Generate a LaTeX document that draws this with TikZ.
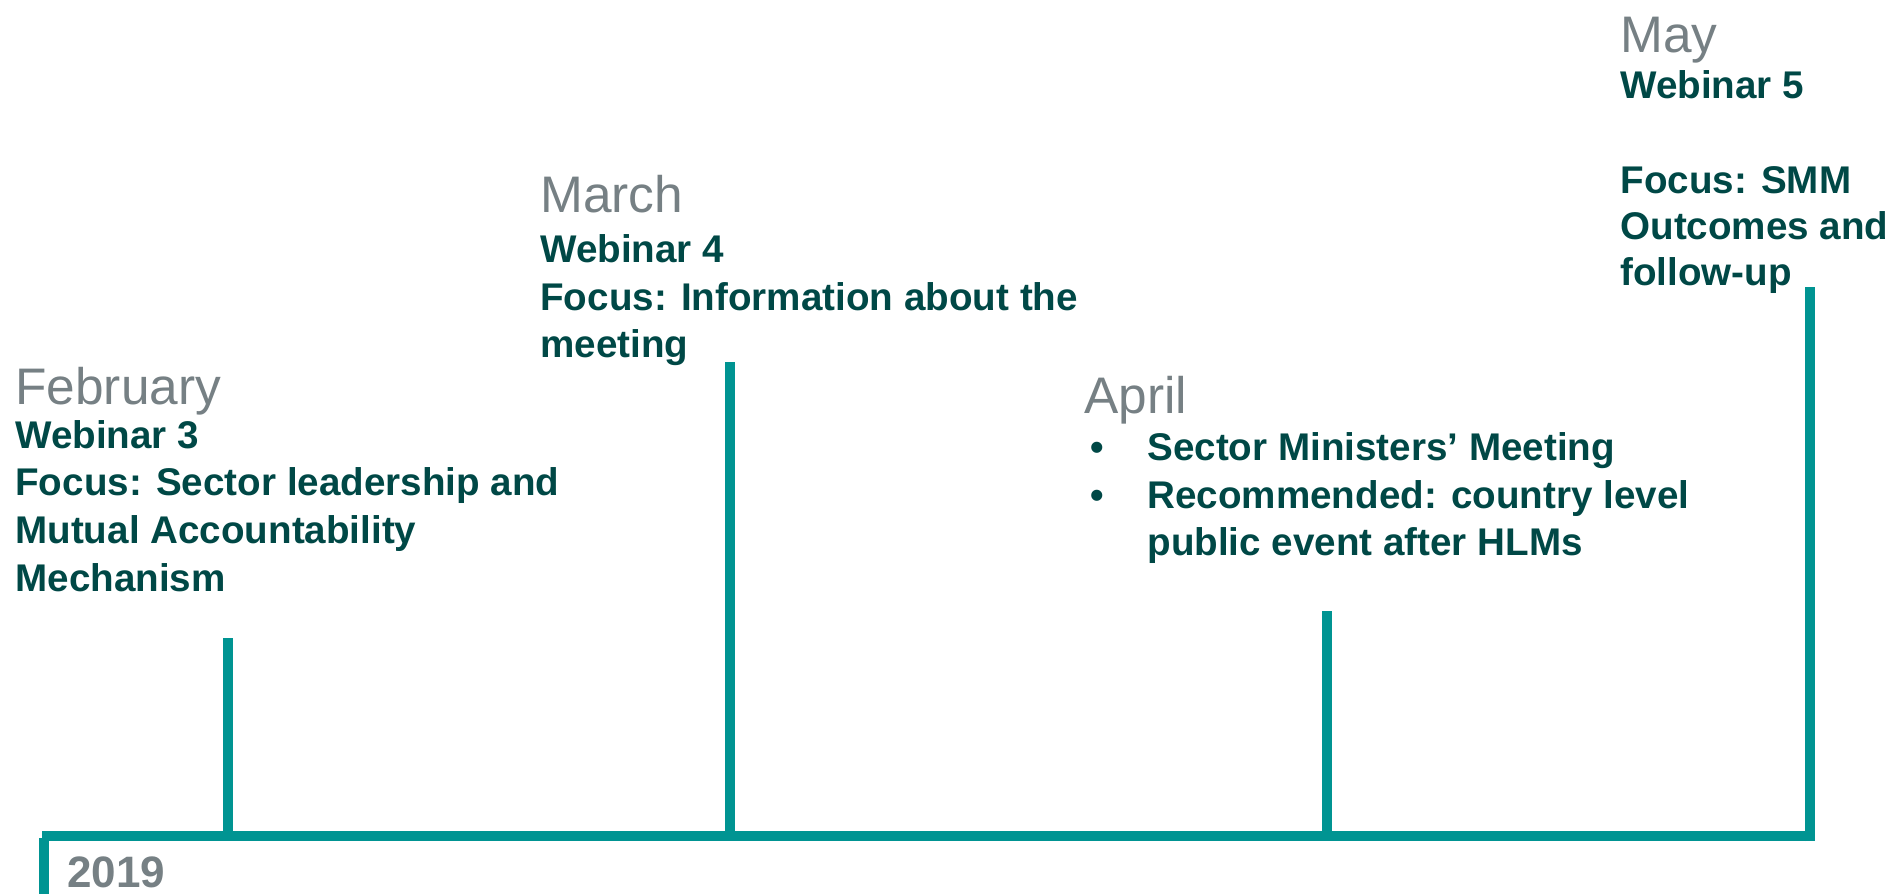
\documentclass[tikz,border=0pt]{standalone}
\usepackage{fontspec}
\setmainfont{Liberation Sans}
\definecolor{teal1}{RGB}{0,148,146}
\definecolor{dark1}{RGB}{0,72,70}
\definecolor{gray1}{RGB}{118,128,132}
\tikzset{
  tl/.style={draw=teal1,line width=5pt},
  month/.style={anchor=base west,inner sep=0pt,text=gray1,font=\fontsize{25.7}{30}\selectfont},
  body/.style={anchor=base west,inner sep=0pt,text=dark1,font=\bfseries\fontsize{19.3}{23.5}\selectfont},
  year/.style={anchor=base west,inner sep=0pt,text=gray1,font=\bfseries\fontsize{22}{26}\selectfont}
}
\begin{document}
\begin{tikzpicture}[x=0.5pt,y=-0.5pt]
\useasboundingbox (0,0) rectangle (1904,894);
% axis
\coordinate (a0) at (42,836);
\coordinate (a1) at (1815,836);
\coordinate (v0) at (44,838);
\coordinate (v1) at (44,894);
\coordinate (fT) at (228,638);
\coordinate (fB) at (228,836);
\coordinate (mT) at (730,362);
\coordinate (mB) at (730,840);
\coordinate (aT) at (1327,611);
\coordinate (aB) at (1327,836);
\coordinate (yT) at (1810,287);
\coordinate (yB) at (1810,841);
\draw[tl] (a0) -- (a1);
\draw[tl] (v0) -- (v1);
\draw[tl] (fB) -- (fT);
\draw[tl] (mB) -- (mT);
\draw[tl] (aB) -- (aT);
\draw[tl] (yB) -- (yT);
\node[year] (yr) at (67,887) {2019};
% February
\node[month] (feb) at (15,404) {February};
\node[body] (f1) at (15,448) {Webinar 3};
\node[body] (f2) at (15,495) {Focus: Sector leadership and};
\node[body] (f3) at (15,543) {Mutual Accountability};
\node[body] (f4) at (15,591) {Mechanism};
% March
\node[month] (mar) at (540,212) {March};
\node[body] (m1) at (540,262) {Webinar 4};
\node[body] (m2) at (540,310) {Focus: Information about the};
\node[body] (m3) at (540,357) {meeting};
% April
\node[month] (apr) at (1084,413) {April};
\node[body] (b1) at (1090,460) {•};
\node[body] (a1t) at (1147,460) {Sector Ministers’ Meeting};
\node[body] (b2) at (1090,508) {•};
\node[body] (a2t) at (1147,508) {Recommended: country level};
\node[body] (a3t) at (1147,555) {public event after HLMs};
% May
\node[month] (may) at (1620,52) {May};
\node[body] (y1) at (1620,98) {Webinar 5};
\node[body] (y2) at (1620,193) {Focus: SMM};
\node[body] (y3) at (1620,239) {Outcomes and};
\node[body] (y4) at (1620,285) {follow-up};
\end{tikzpicture}
\end{document}
